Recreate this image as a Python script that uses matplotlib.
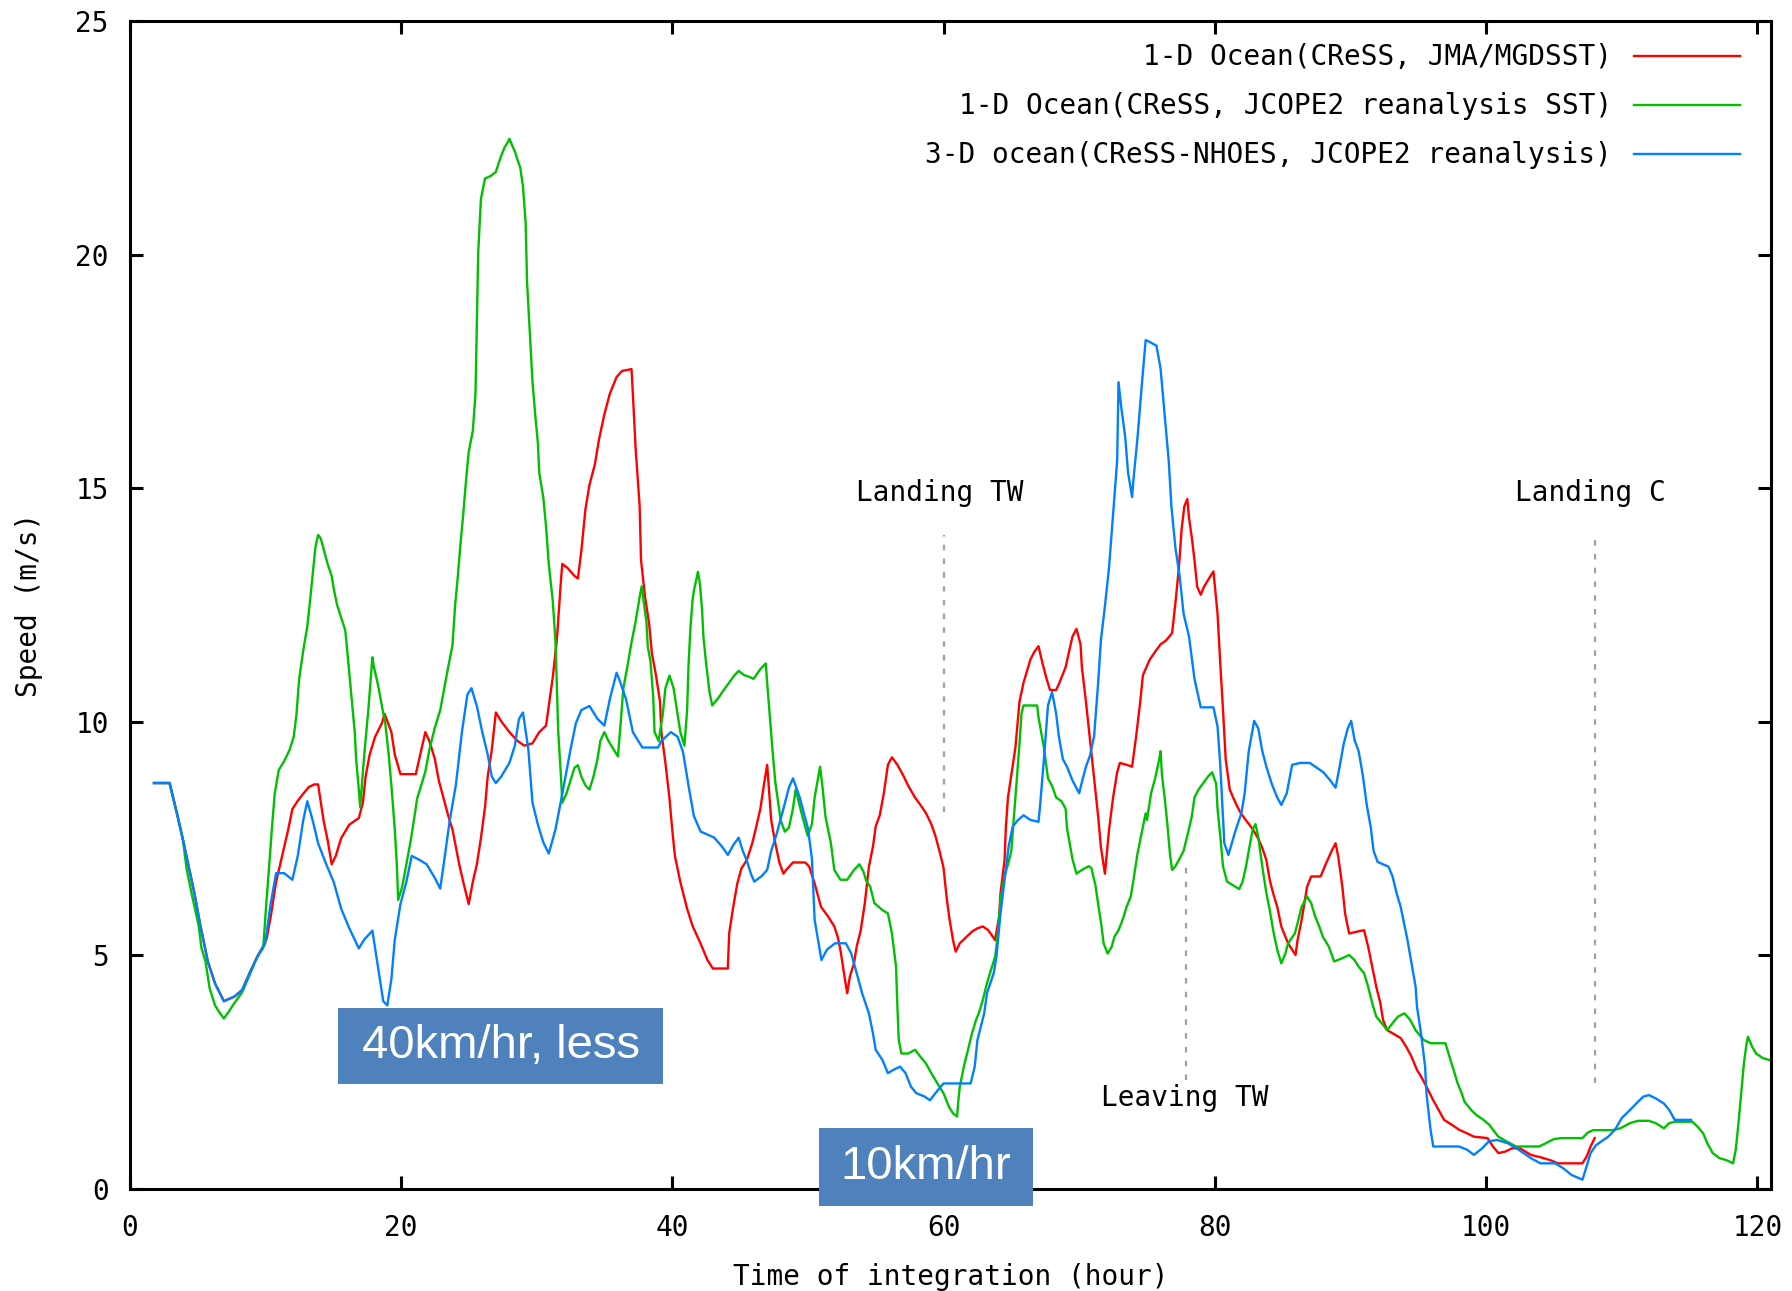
import matplotlib
matplotlib.use("Agg")
import matplotlib.pyplot as plt
from matplotlib.patches import Rectangle

# ---- data ----
t_red = [1.8, 2.95, 3.5, 3.94, 4.36, 4.78, 5.2, 5.77, 6.3, 6.95, 7.74, 8.3, 8.86, 9.42, 9.85,
         10.1, 10.4, 10.8, 11.1, 11.4, 11.7, 12.0, 12.4, 12.8, 13.2, 13.6, 13.9, 14.1, 14.3, 14.6,
         14.9, 15.2, 15.6, 16.2, 16.9, 17.2, 17.4, 17.7, 18.1, 18.6, 18.8, 19.3, 19.55, 19.97, 21.1,
         21.5, 21.8, 22.1, 22.5, 22.8, 23.2, 23.5, 23.8, 24.05, 24.3, 24.6, 25.0, 25.3, 25.6, 25.9,
         26.2, 26.4, 26.7, 27.0, 27.4, 28.0, 28.6, 29.1, 29.7, 30.2, 30.7, 30.9, 31.2, 31.5, 31.8,
         31.9, 32.3, 32.8, 33.05, 33.3, 33.6, 33.9, 34.3, 34.6, 35.0, 35.4, 35.9, 36.3, 37.0, 37.1,
         37.3, 37.6, 37.7, 38.0, 38.3, 38.5, 38.8, 39.1, 39.2, 39.5, 39.8, 40.0, 40.2, 40.6, 41.1,
         41.5, 42.1, 42.6, 43.0, 44.1, 44.2, 44.5, 44.8, 45.1, 45.5, 45.9, 46.2, 46.5, 46.75, 47.0,
         47.3, 47.6, 47.9, 48.2, 48.4, 48.9, 49.8, 50.1, 50.5, 50.97, 51.5, 51.95, 52.2, 52.4, 52.7,
         52.9, 53.1, 53.4, 53.6, 53.9, 54.2, 54.5, 54.8, 55.0, 55.3, 55.6, 55.9, 56.2, 56.6, 57.0,
         57.4, 57.9, 58.3, 58.7, 59.1, 59.4, 59.7, 60.0, 60.25, 60.45, 60.7, 60.9, 61.2, 61.7, 62.1,
         62.5, 62.9, 63.3, 63.8, 64.1, 64.2, 64.5, 64.6, 64.75, 65.0, 65.3, 65.6, 65.9, 66.2, 66.4,
         66.7, 67.0, 67.3, 67.6, 67.85, 68.3, 68.55, 69.0, 69.25, 69.5, 69.8, 70.1, 70.2, 70.5, 70.8,
         71.1, 71.4, 71.6, 71.9, 72.2, 72.5, 72.8, 73.0, 73.5, 73.9, 74.2, 74.5, 74.7, 75.2, 75.6,
         76.0, 76.4, 76.85, 77.1, 77.35, 77.55, 77.75, 77.97, 78.1, 78.3, 78.5, 78.7, 78.96, 79.2, 79.7,
         79.9, 80.2, 80.4, 80.6, 80.8, 81.1, 81.35, 81.6, 81.9, 82.3, 82.8, 83.2, 83.5, 83.8, 84.05,
         84.3, 84.6, 84.9, 85.2, 85.4, 85.7, 85.95, 86.1, 86.4, 86.8, 87.1, 87.8, 88.2, 88.65, 88.9,
         89.1, 89.4, 89.6, 89.9, 90.5, 91.0, 91.3, 91.6, 91.9, 92.2, 92.4, 92.7, 93.3, 93.7, 94.1,
         94.5, 94.9, 95.2, 95.6, 96.1, 96.5, 96.9, 97.5, 98.0, 98.6, 99.1, 100.1, 100.5, 100.9, 101.4,
         101.9, 102.5, 103.3, 104.0, 104.7, 105.3, 107.1, 107.4, 107.7, 108.0]
v_red = [8.69, 8.69, 8.03, 7.47, 6.9, 6.33, 5.67, 4.87, 4.4, 4.02, 4.12, 4.26, 4.63, 4.97, 5.2,
         5.35, 5.82, 6.57, 6.95, 7.32, 7.7, 8.13, 8.31, 8.46, 8.6, 8.66, 8.66, 8.27, 7.89, 7.47,
         6.95, 7.13, 7.51, 7.8, 7.94, 8.27, 8.83, 9.3, 9.68, 9.97, 10.17, 9.78, 9.3, 8.88, 8.88,
         9.4, 9.78, 9.59, 9.21, 8.74, 8.31, 7.98, 7.7, 7.32, 6.95, 6.57, 6.1, 6.57, 6.95, 7.51,
         8.17, 8.83, 9.4, 10.2, 10.01, 9.78, 9.59, 9.49, 9.54, 9.78, 9.92, 10.34, 10.96, 11.76, 13.03,
         13.38, 13.29, 13.12, 13.07, 13.65, 14.54, 15.07, 15.51, 16.04, 16.58, 17.02, 17.38, 17.51, 17.55, 17.02,
         15.87, 14.62, 13.47, 12.67, 12.1, 11.47, 11.0, 10.44, 9.78, 9.12, 8.36, 7.7, 7.13, 6.57, 6.0,
         5.63, 5.25, 4.9, 4.72, 4.72, 5.47, 6.04, 6.54, 6.86, 7.04, 7.4, 7.76, 8.14, 8.63, 9.08,
         7.89, 7.4, 6.99, 6.75, 6.83, 6.99, 6.99, 6.9, 6.54, 6.04, 5.83, 5.62, 5.4, 5.12, 4.55,
         4.19, 4.55, 4.83, 5.19, 5.54, 6.12, 6.9, 7.33, 7.76, 8.0, 8.47, 9.08, 9.24, 9.08, 8.87,
         8.63, 8.38, 8.22, 8.05, 7.81, 7.56, 7.24, 6.88, 6.19, 5.76, 5.33, 5.08, 5.26, 5.4, 5.51,
         5.58, 5.62, 5.54, 5.33, 5.83, 6.33, 7.04, 7.76, 8.38, 8.87, 9.45, 10.43, 10.84, 11.13, 11.33,
         11.5, 11.62, 11.25, 10.92, 10.68, 10.68, 10.84, 11.17, 11.5, 11.82, 11.99, 11.66, 11.17, 10.43, 9.61,
         8.79, 7.97, 7.32, 6.75, 7.69, 8.38, 8.92, 9.12, 9.08, 9.04, 9.69, 10.43, 11.0, 11.33, 11.5,
         11.66, 11.74, 11.9, 12.56, 13.3, 14.12, 14.61, 14.77, 14.36, 13.95, 13.46, 12.89, 12.72, 12.89, 13.13,
         13.22, 12.31, 11.25, 10.27, 9.2, 8.55, 8.38, 8.22, 8.05, 7.89, 7.7, 7.5, 7.3, 7.04, 6.61,
         6.33, 6.04, 5.62, 5.4, 5.26, 5.12, 5.01, 5.33, 5.76, 6.47, 6.69, 6.69, 6.97, 7.26, 7.4,
         7.11, 6.47, 5.9, 5.47, 5.51, 5.54, 5.19, 4.76, 4.33, 3.98, 3.62, 3.4, 3.3, 3.23, 3.05,
         2.83, 2.55, 2.41, 2.19, 1.9, 1.69, 1.48, 1.37, 1.27, 1.19, 1.12, 1.09, 0.91, 0.77, 0.8,
         0.87, 0.87, 0.73, 0.68, 0.62, 0.55, 0.55, 0.69, 0.91, 1.09]

t_green = [1.8, 2.95, 3.5, 3.94, 4.2, 4.6, 5.1, 5.3, 5.6, 5.9, 6.3, 6.6, 6.95, 7.3, 7.7,
           8.3, 8.86, 9.4, 9.85, 10.1, 10.3, 10.5, 10.7, 11.0, 11.4, 11.8, 12.1, 12.3, 12.5, 12.8,
           13.1, 13.3, 13.5, 13.7, 13.9, 14.1, 14.35, 14.6, 14.9, 15.05, 15.3, 15.6, 15.9, 16.0, 16.3,
           16.6, 16.7, 16.9, 17.0, 17.3, 17.6, 17.9, 18.0, 18.3, 18.6, 18.85, 19.1, 19.3, 19.55, 19.7,
           19.8, 20.1, 20.4, 20.7, 20.96, 21.2, 21.5, 21.8, 22.1, 22.5, 22.9, 23.2, 23.5, 23.8, 24.0,
           24.2, 24.4, 24.6, 24.8, 25.0, 25.3, 25.5, 25.6, 25.7, 25.9, 26.2, 26.6, 27.0, 27.2, 27.4,
           27.65, 27.85, 28.0, 28.2, 28.4, 28.6, 28.8, 29.0, 29.2, 29.3, 29.5, 29.7, 29.9, 30.1, 30.2,
           30.5, 30.7, 30.9, 31.2, 31.4, 31.5, 31.6, 31.8, 31.9, 32.2, 32.5, 32.8, 33.05, 33.3, 33.6,
           33.9, 34.2, 34.5, 34.7, 35.0, 35.3, 35.7, 36.0, 36.2, 36.4, 36.7, 37.0, 37.3, 37.6, 37.75,
           38.1, 38.2, 38.4, 38.6, 38.7, 39.0, 39.3, 39.5, 39.8, 40.1, 40.4, 40.6, 40.9, 41.1, 41.2,
           41.35, 41.5, 41.6, 41.9, 42.05, 42.2, 42.3, 42.5, 42.75, 42.95, 43.4, 43.8, 44.2, 44.6, 44.9,
           45.3, 45.7, 46.0, 46.5, 46.9, 47.0, 47.2, 47.4, 47.6, 47.8, 48.0, 48.3, 48.6, 48.9, 49.1,
           49.6, 49.99, 50.3, 50.5, 50.7, 50.9, 51.1, 51.3, 51.7, 51.95, 52.4, 52.9, 53.4, 53.8, 54.1,
           54.3, 54.6, 54.9, 55.5, 55.9, 56.2, 56.5, 56.6, 56.7, 56.9, 57.4, 57.9, 58.3, 58.7, 59.1,
           59.55, 60.0, 60.4, 60.7, 61.0, 61.1, 61.2, 61.5, 61.8, 62.1, 62.4, 62.6, 62.9, 63.2, 63.5,
           63.8, 63.9, 64.05, 64.2, 64.5, 64.8, 65.0, 65.3, 65.6, 65.75, 65.9, 66.9, 67.0, 67.2, 67.4,
           67.7, 68.0, 68.3, 68.7, 69.0, 69.1, 69.3, 69.5, 69.8, 70.2, 70.7, 70.9, 71.2, 71.4, 71.65,
           71.8, 72.1, 72.4, 72.6, 72.9, 73.2, 73.5, 73.8, 74.0, 74.3, 74.6, 74.9, 75.0, 75.3, 75.6,
           75.9, 76.0, 76.1, 76.3, 76.5, 76.7, 76.85, 77.1, 77.4, 77.7, 77.97, 78.3, 78.5, 78.8, 79.1,
           79.5, 79.8, 80.1, 80.2, 80.4, 80.6, 80.9, 81.35, 81.8, 82.05, 82.3, 82.6, 82.8, 83.0, 83.2,
           83.5, 83.8, 84.05, 84.3, 84.6, 84.9, 85.2, 85.4, 85.9, 86.1, 86.4, 86.8, 87.1, 87.4, 87.7,
           87.96, 88.4, 88.8, 89.4, 89.9, 90.3, 90.6, 91.0, 91.3, 91.6, 91.9, 92.3, 92.7, 93.1, 93.5,
           93.97, 94.4, 94.8, 95.4, 95.9, 97.0, 97.3, 97.6, 97.9, 98.2, 98.4, 98.9, 99.3, 99.8, 100.25,
           100.5, 100.9, 101.5, 102.2, 103.9, 104.4, 105.0, 105.6, 107.1, 107.5, 107.9, 109.3, 109.9, 110.6, 111.2,
           112.0, 112.5, 113.1, 113.5, 113.9, 115.2, 115.6, 116.0, 116.3, 116.7, 117.2, 117.7, 118.2, 118.4, 118.6,
           118.8, 119.0, 119.2, 119.3, 119.6, 119.9, 120.4, 120.9]
v_green = [8.69, 8.69, 8.03, 7.47, 6.86, 6.29, 5.63, 5.16, 4.87, 4.3, 3.93, 3.79, 3.65, 3.79, 3.97,
           4.21, 4.59, 4.97, 5.16, 6.19, 6.95, 7.75, 8.46, 8.97, 9.16, 9.4, 9.68, 10.15, 10.91, 11.52,
           12.04, 12.58, 13.16, 13.74, 14.0, 13.92, 13.65, 13.38, 13.12, 12.85, 12.5, 12.23, 11.96, 11.66, 10.72,
           9.78, 9.21, 8.55, 8.17, 9.3, 10.25, 11.38, 11.19, 10.81, 10.34, 9.97, 9.3, 8.64, 7.7, 6.95,
           6.19, 6.47, 6.95, 7.42, 7.89, 8.36, 8.64, 8.93, 9.4, 9.87, 10.25, 10.72, 11.19, 11.63, 12.5,
           13.12, 13.83, 14.45, 15.16, 15.78, 16.22, 17.02, 18.53, 20.04, 21.19, 21.63, 21.68, 21.77, 21.95, 22.12,
           22.3, 22.39, 22.48, 22.34, 22.21, 22.03, 21.86, 21.46, 20.66, 19.42, 18.35, 17.29, 16.58, 15.96, 15.33,
           14.8, 14.18, 13.38, 12.58, 11.7, 10.72, 9.78, 8.83, 8.27, 8.46, 8.74, 9.02, 9.07, 8.83, 8.64,
           8.55, 8.83, 9.21, 9.59, 9.78, 9.59, 9.4, 9.26, 9.97, 10.72, 11.19, 11.7, 12.14, 12.67, 12.9,
           12.14, 11.61, 11.29, 10.53, 9.78, 9.59, 10.15, 10.72, 10.99, 10.72, 10.15, 9.78, 9.49, 10.25, 11.19,
           12.04, 12.6, 12.81, 13.21, 12.94, 12.4, 11.83, 11.25, 10.64, 10.35, 10.51, 10.68, 10.84, 11.0, 11.09,
           11.0, 10.96, 10.92, 11.13, 11.25, 10.84, 10.1, 9.37, 8.71, 8.3, 7.89, 7.65, 7.73, 8.14, 8.55,
           7.97, 7.56, 7.81, 8.38, 8.71, 9.04, 8.55, 7.97, 7.4, 6.83, 6.62, 6.62, 6.83, 6.95, 6.79,
           6.6, 6.47, 6.12, 5.97, 5.9, 5.47, 4.76, 3.9, 3.19, 2.9, 2.9, 2.98, 2.83, 2.69, 2.48,
           2.26, 2.05, 1.76, 1.62, 1.55, 1.91, 2.19, 2.62, 2.98, 3.33, 3.62, 3.76, 4.05, 4.4, 4.69,
           4.97, 5.19, 5.62, 6.19, 6.7, 7.0, 7.24, 8.38, 9.53, 10.18, 10.35, 10.35, 10.1, 9.78, 9.45,
           8.79, 8.63, 8.38, 8.3, 8.14, 7.73, 7.4, 7.07, 6.75, 6.83, 6.91, 6.87, 6.5, 6.1, 5.62,
           5.26, 5.04, 5.19, 5.4, 5.54, 5.76, 6.04, 6.26, 6.61, 7.18, 7.61, 8.04, 7.9, 8.47, 8.79,
           9.2, 9.37, 8.87, 8.38, 7.81, 7.15, 6.83, 6.91, 7.07, 7.24, 7.56, 7.97, 8.38, 8.55, 8.67,
           8.83, 8.92, 8.67, 8.14, 7.56, 6.91, 6.58, 6.5, 6.42, 6.58, 6.91, 7.4, 7.7, 7.81, 7.54,
           6.9, 6.33, 5.97, 5.54, 5.12, 4.83, 5.04, 5.26, 5.47, 5.69, 6.04, 6.26, 6.12, 5.83, 5.62,
           5.4, 5.19, 4.87, 4.94, 5.01, 4.9, 4.76, 4.62, 4.33, 3.98, 3.69, 3.55, 3.4, 3.55, 3.69,
           3.76, 3.62, 3.4, 3.19, 3.12, 3.12, 2.83, 2.55, 2.26, 2.05, 1.87, 1.69, 1.58, 1.48, 1.37,
           1.27, 1.12, 1.02, 0.91, 0.91, 0.98, 1.07, 1.09, 1.09, 1.21, 1.26, 1.26, 1.3, 1.41, 1.46,
           1.46, 1.41, 1.3, 1.41, 1.44, 1.44, 1.33, 1.19, 0.98, 0.77, 0.66, 0.62, 0.55, 0.84, 1.41,
           2.05, 2.69, 3.12, 3.26, 3.05, 2.9, 2.8, 2.76]

t_blue = [1.8, 2.95, 3.5, 3.94, 4.36, 4.78, 5.2, 5.77, 6.3, 6.95, 7.74, 8.3, 8.86, 9.42, 9.99,
          10.4, 10.8, 11.4, 12.0, 12.4, 12.8, 13.1, 13.5, 13.9, 14.5, 15.05, 15.6, 16.2, 16.9, 17.3,
          17.9, 18.3, 18.7, 19.0, 19.3, 19.55, 19.97, 20.4, 20.8, 21.4, 21.9, 22.5, 22.9, 23.2, 23.6,
          24.05, 24.5, 24.9, 25.2, 25.6, 26.0, 26.4, 26.7, 27.0, 27.4, 28.0, 28.4, 28.7, 29.0, 29.4,
          29.7, 30.1, 30.5, 30.9, 31.4, 31.9, 32.5, 32.9, 33.3, 33.9, 34.5, 35.0, 35.4, 35.9, 36.1,
          36.6, 37.1, 37.8, 38.96, 39.2, 39.9, 40.4, 40.8, 41.2, 41.6, 42.1, 42.5, 43.1, 43.7, 44.1,
          44.5, 44.9, 45.2, 45.5, 45.8, 46.05, 46.6, 47.0, 47.3, 47.7, 48.2, 48.6, 48.9, 49.1, 49.4,
          49.7, 50.0, 50.3, 50.5, 51.0, 51.4, 52.0, 52.8, 53.2, 53.6, 54.0, 54.5, 54.8, 55.0, 55.5,
          55.9, 56.3, 56.8, 57.2, 57.6, 58.0, 58.6, 59.0, 59.4, 60.0, 62.0, 62.3, 62.5, 63.0, 63.2,
          63.7, 63.9, 64.2, 64.5, 64.8, 65.1, 65.5, 65.9, 66.4, 67.0, 67.1, 67.4, 67.7, 68.0, 68.3,
          68.5, 68.8, 69.1, 69.5, 70.0, 70.2, 70.5, 70.8, 71.1, 71.4, 71.6, 71.9, 72.2, 72.5, 72.8,
          72.9, 73.1, 73.4, 73.6, 73.9, 74.0, 74.3, 74.6, 74.9, 75.2, 75.7, 76.0, 76.3, 76.6, 76.8,
          77.1, 77.4, 77.7, 78.1, 78.5, 78.96, 79.9, 80.2, 80.4, 80.7, 81.0, 81.5, 81.96, 82.2, 82.5,
          82.9, 83.2, 83.5, 83.8, 84.2, 84.6, 84.9, 85.3, 85.7, 86.3, 87.0, 87.4, 88.0, 88.5, 88.9,
          89.2, 89.5, 89.8, 90.05, 90.3, 90.6, 90.9, 91.2, 91.5, 91.7, 92.0, 92.8, 93.1, 93.4, 93.7,
          93.9, 94.2, 94.5, 94.8, 94.9, 95.2, 95.5, 95.6, 95.9, 96.1, 98.0, 98.6, 99.1, 99.7, 100.2,
          100.8, 101.6, 102.4, 103.3, 104.0, 105.1, 105.7, 106.3, 107.1, 107.4, 107.7, 108.1, 108.5, 109.0, 109.5,
          110.0, 110.6, 111.2, 111.6, 112.0, 112.5, 113.1, 113.5, 113.9, 115.1]
v_blue = [8.69, 8.69, 8.03, 7.47, 6.9, 6.33, 5.67, 4.87, 4.4, 4.02, 4.12, 4.26, 4.63, 4.97, 5.25,
          6.1, 6.76, 6.76, 6.62, 7.13, 7.89, 8.3, 7.89, 7.4, 6.95, 6.57, 6.0, 5.58, 5.15, 5.34,
          5.53, 4.78, 4.02, 3.93, 4.49, 5.34, 6.1, 6.57, 7.13, 7.04, 6.95, 6.66, 6.43, 7.04, 7.89,
          8.64, 9.78, 10.58, 10.72, 10.34, 9.78, 9.3, 8.83, 8.69, 8.83, 9.12, 9.49, 10.06, 10.2, 9.4,
          8.27, 7.8, 7.42, 7.18, 7.7, 8.46, 9.4, 9.97, 10.25, 10.34, 10.06, 9.92, 10.48, 11.05, 10.91,
          10.48, 9.78, 9.45, 9.45, 9.59, 9.78, 9.68, 9.35, 8.64, 7.98, 7.65, 7.6, 7.52, 7.32, 7.15,
          7.36, 7.52, 7.24, 7.03, 6.75, 6.58, 6.7, 6.83, 7.24, 7.6, 8.14, 8.59, 8.79, 8.63, 8.38,
          8.05, 7.73, 7.07, 5.76, 4.9, 5.12, 5.26, 5.26, 5.04, 4.62, 4.19, 3.76, 3.33, 2.98, 2.76,
          2.48, 2.55, 2.62, 2.48, 2.19, 2.05, 1.98, 1.9, 2.05, 2.26, 2.26, 2.62, 3.19, 3.76, 4.19,
          4.62, 4.97, 5.9, 6.61, 7.33, 7.76, 7.9, 8.0, 7.9, 7.86, 8.14, 9.2, 10.35, 10.64, 10.18,
          9.69, 9.2, 9.04, 8.75, 8.47, 8.71, 9.04, 9.28, 9.69, 10.84, 11.74, 12.48, 13.3, 14.44, 15.59,
          17.27, 16.74, 16.08, 15.34, 14.81, 15.18, 16.08, 17.15, 18.17, 18.13, 18.05, 17.56, 16.57, 15.59, 14.61,
          13.71, 13.13, 12.31, 11.82, 10.92, 10.31, 10.31, 9.9, 9.08, 7.4, 7.15, 7.65, 8.05, 8.47, 9.37,
          10.02, 9.86, 9.37, 9.04, 8.67, 8.38, 8.22, 8.47, 9.08, 9.12, 9.12, 9.04, 8.92, 8.75, 8.59,
          9.04, 9.53, 9.86, 10.02, 9.61, 9.37, 8.87, 8.22, 7.73, 7.24, 7.0, 6.9, 6.69, 6.33, 6.04,
          5.76, 5.33, 4.83, 4.33, 3.9, 3.33, 2.62, 2.05, 1.27, 0.91, 0.91, 0.84, 0.73, 0.87, 1.02,
          1.05, 0.98, 0.84, 0.66, 0.55, 0.55, 0.44, 0.3, 0.2, 0.48, 0.77, 0.94, 1.02, 1.12, 1.27,
          1.52, 1.69, 1.87, 1.98, 2.01, 1.94, 1.83, 1.69, 1.48, 1.48]

labels = ["1-D Ocean(CReSS, JMA/MGDSST)",
          "1-D Ocean(CReSS, JCOPE2 reanalysis SST)",
          "3-D ocean(CReSS-NHOES, JCOPE2 reanalysis)"]
colors = ["#ff0000", "#00c000", "#0080ff"]

# event markers: hour, dashed line bottom/top, label, label position
event_hours = [60.0, 77.9, 108.0]
event_lo = [8.06, 2.33, 2.26]
event_hi = [14.0, 7.0, 14.0]
event_labels = ["Landing TW", "Leaving TW", "Landing C"]
event_label_x = [59.75, 77.75, 107.7]
event_label_y = [14.9, 1.94, 14.9]

# blue call-out boxes: text, x0, x1, y0, y1
box_texts = ["40km/hr, less", "10km/hr"]
box_x0 = [15.4, 50.8]
box_x1 = [39.3, 66.6]
box_y0 = [2.25, -0.36]
box_y1 = [3.87, 1.31]

mono = "DejaVu Sans Mono"
fs = 20

fig = plt.figure(figsize=(17.92, 12.91), dpi=100)
ax = fig.add_axes([0.0723, 0.079, 0.9160, 0.9047])

for t, v, c, lab in zip([t_red, t_green, t_blue], [v_red, v_green, v_blue], colors, labels):
    ax.plot(t, v, color=c, lw=1.7, label=lab)

for h, lo, hi in zip(event_hours, event_lo, event_hi):
    ax.plot([h, h], [lo, hi], color="#a0a0a0", lw=1.6, dashes=(2.5, 3.7))
for tx, x, y in zip(event_labels, event_label_x, event_label_y):
    ax.text(x, y, tx, ha="center", va="center", fontsize=fs, family=mono)

for tx, x0, x1, y0, y1 in zip(box_texts, box_x0, box_x1, box_y0, box_y1):
    ax.add_patch(Rectangle((x0, y0), x1 - x0, y1 - y0, facecolor="#4f81bd",
                           edgecolor="none", zorder=6, clip_on=False))
    ax.text((x0 + x1) / 2, (y0 + y1) / 2, tx, ha="center", va="center", color="white",
            fontsize=34, family="Liberation Sans", zorder=7, clip_on=False)

ax.set_xlim(0, 121)
ax.set_ylim(0, 25)
ax.set_xticks(range(0, 121, 20))
ax.set_yticks(range(0, 26, 5))
ax.tick_params(direction="in", length=9.6, width=2.2, top=True, right=True,
               labelsize=fs)
ax.tick_params(axis="x", pad=18)
ax.tick_params(axis="y", pad=15)
for lbl in ax.get_xticklabels() + ax.get_yticklabels():
    lbl.set_family(mono)
for sp in ax.spines.values():
    sp.set_linewidth(2.2)

ax.set_xlabel("Time of integration (hour)", fontsize=fs, family=mono)
ax.set_ylabel("Speed (m/s)", fontsize=fs, family=mono)
ax.xaxis.set_label_coords(0.5, -0.075)
ax.xaxis.label.set_va("center")
ax.yaxis.set_label_coords(-0.0615, 0.5)
ax.yaxis.label.set_va("center")

ax.legend(loc="upper right", bbox_to_anchor=(0.981, 0.981), markerfirst=False,
          frameon=False, prop={"family": mono, "size": fs}, handlelength=3.8,
          handletextpad=0.8, labelspacing=0.76, borderaxespad=0, borderpad=0)

fig.savefig("out.png", dpi=100)
